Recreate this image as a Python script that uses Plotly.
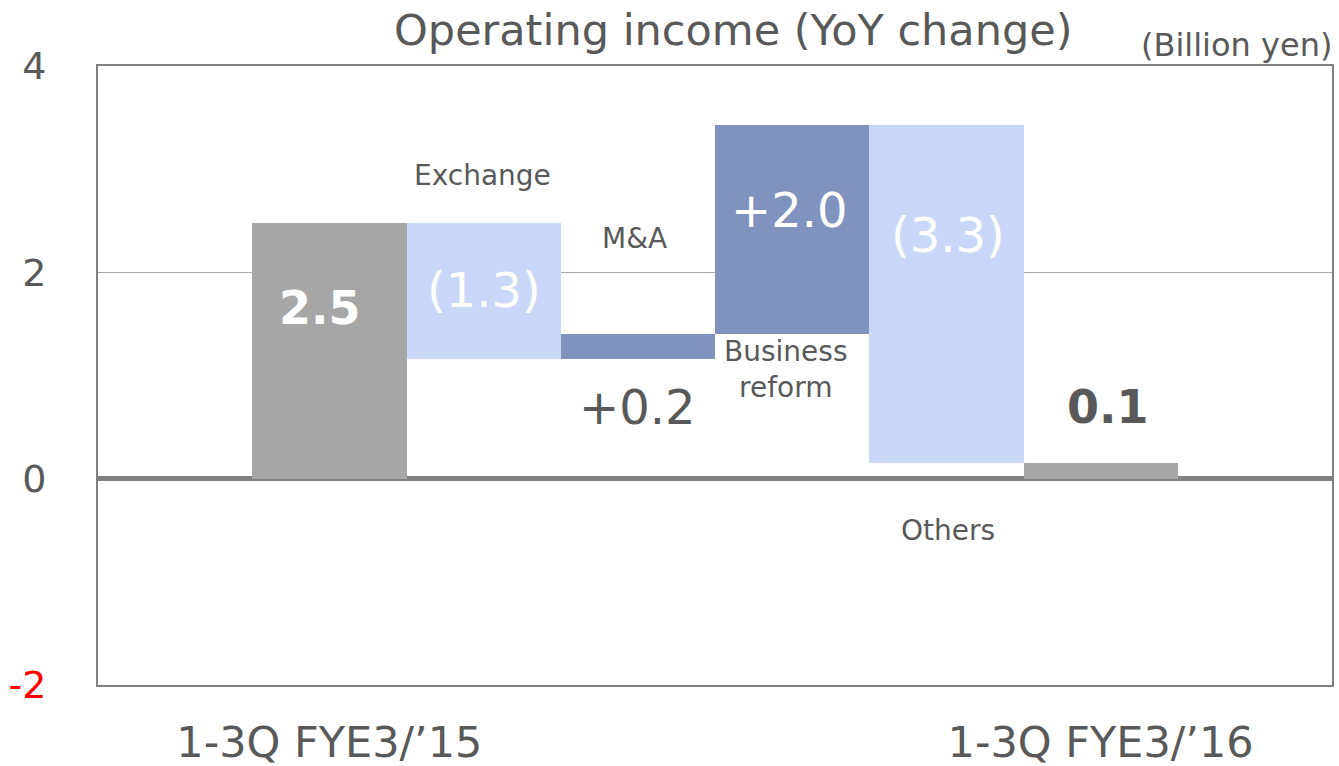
import plotly.graph_objects as go

# ---- data ----
categories = ["1-3Q FYE3/’15", "Exchange", "M&A", "Business reform", "Others", "1-3Q FYE3/’16"]
start_value = 2.48
deltas = [-1.32, 0.24, 2.03, -3.28]
end_value = 0.15
value_labels = ["2.5", "(1.3)", "+0.2", "+2.0", "(3.3)", "0.1"]
y_tick_vals = [-2, 0, 2, 4]
y_tick_labels = ["-2", "0", "2", "4"]

GREY = "#A6A6A6"
LIGHT = "#C9D7F8"
DARK = "#8093BF"
TXT = "#595959"
FONT = "DejaVu Sans"

# build waterfall bases / heights
bases = [0]
heights = [start_value]
colors = [GREY]
running = start_value
for d in deltas:
    if d < 0:
        bases.append(running + d)
        heights.append(-d)
        colors.append(LIGHT)
    else:
        bases.append(running)
        heights.append(d)
        colors.append(DARK)
    running += d
bases.append(0)
heights.append(end_value)
colors.append(GREY)

xpos = list(range(1, len(categories) + 1))

fig = go.Figure(go.Bar(
    x=xpos, y=heights, base=bases, width=1,
    marker=dict(color=colors, line=dict(width=0)),
    hoverinfo="skip", showlegend=False,
))

ann = []
def add(x, y, text, size, color, bold=False, xref="x", yref="y", xanchor="center", yanchor="middle"):
    t = f"<b>{text}</b>" if bold else text
    ann.append(dict(x=x, y=y, xref=xref, yref=yref, text=t, showarrow=False,
                    xanchor=xanchor, yanchor=yanchor,
                    font=dict(family=FONT, size=size, color=color)))

# value labels
add(0.94, 1.65, value_labels[0], 46, "white", bold=True)
add(2, 1.83, value_labels[1], 48, "white")
add(3, 0.69, value_labels[2], 48, TXT)
add(3.98, 2.60, value_labels[3], 48, "white")
add(5.01, 2.36, value_labels[4], 48, "white")
add(6.05, 0.69, value_labels[5], 46, TXT, bold=True)
# category labels
add(1.99, 2.94, categories[1], 28, TXT)
add(2.98, 2.33, categories[2], 28, TXT)
add(3.96, 1.06, "Business<br>reform", 28, TXT)
add(5.01, -0.50, categories[4], 28, TXT)
# title and unit
add(0.5146, 1.058, "Operating income (YoY change)", 43, TXT, xref="paper", yref="paper")
add(1.002, 1.034, "(Billion yen)", 32, TXT, xref="paper", yref="paper", xanchor="right")

tick_text = [f"<span style='color:red'>{t}</span>" if v < 0 else t for v, t in zip(y_tick_vals, y_tick_labels)]

fig.update_layout(
    width=1339, height=766,
    margin=dict(l=98, r=7, t=66, b=81, autoexpand=False),
    plot_bgcolor="white", paper_bgcolor="white",
    bargap=0,
    hovermode=False,
    annotations=ann,
    xaxis=dict(
        range=[-0.5, 7.5], tickvals=[1, 6], ticktext=[categories[0], categories[5]],
        showgrid=False, zeroline=False, automargin=False,
        showline=True, mirror=True, linecolor="#808080", linewidth=2,
        ticks="outside", ticklen=18, tickcolor="rgba(0,0,0,0)",
        tickfont=dict(family=FONT, size=43, color=TXT),
    ),
    yaxis=dict(
        range=[-2, 4], tickvals=y_tick_vals, ticktext=tick_text,
        showgrid=True, gridcolor="#A6A6A6", gridwidth=1,
        zeroline=True, zerolinecolor="#808080", zerolinewidth=5,
        showline=True, mirror=True, linecolor="#808080", linewidth=2,
        automargin=False,
        ticks="outside", ticklen=42, tickcolor="rgba(0,0,0,0)",
        tickfont=dict(family=FONT, size=38, color=TXT),
    ),
)

fig.write_html(
    "out.html",
    config={"displayModeBar": False},
    post_script="document.body.style.margin='0';document.body.style.overflow='hidden';",
)
